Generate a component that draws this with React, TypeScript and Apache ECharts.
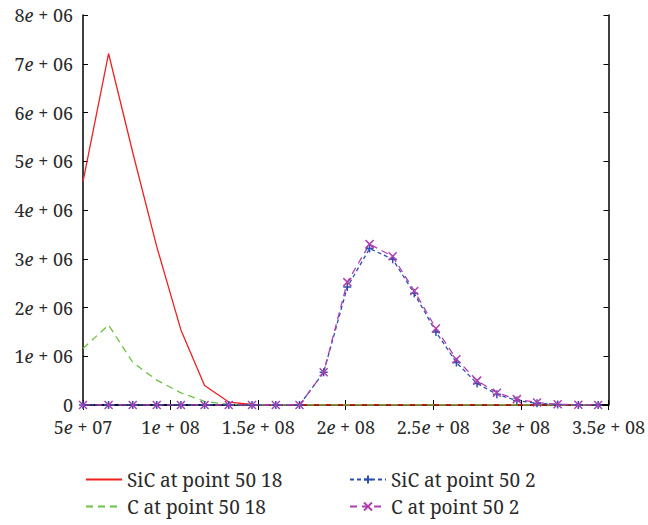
import React, { useEffect, useRef } from "react";
import * as echarts from "echarts";

const xValues = [
  5.0e7, 6.46e7, 7.84e7, 9.21e7, 1.059e8, 1.194e8, 1.332e8, 1.465e8, 1.601e8, 1.736e8,
  1.874e8, 2.009e8, 2.136e8, 2.268e8, 2.391e8, 2.515e8, 2.632e8, 2.75e8, 2.863e8, 2.977e8,
  3.092e8, 3.21e8, 3.328e8, 3.441e8,
];
const sic18 = [
  4.58e6, 7.21e6, 5.18e6, 3.25e6, 1.54e6, 0.4e6, 0.06e6, 0.01e6, 0, 0,
  0, 0, 0, 0, 0, 0, 0, 0, 0, 0, 0, 0, 0, 0,
];
const c18 = [
  1.16e6, 1.64e6, 0.875e6, 0.51e6, 0.25e6, 0.075e6, 0.01e6, 0, 0, 0,
  0, 0, 0, 0, 0, 0, 0, 0, 0, 0, 0, 0, 0, 0,
];
const sic2 = [
  0, 0, 0, 0, 0, 0, 0, 0, 0, 0,
  0.67e6, 2.42e6, 3.21e6, 2.99e6, 2.29e6, 1.5e6, 0.87e6, 0.44e6, 0.22e6, 0.09e6,
  0.035e6, 0.01e6, 0, 0,
];
const c2 = [
  0, 0, 0, 0, 0, 0, 0, 0, 0, 0,
  0.67e6, 2.52e6, 3.3e6, 3.05e6, 2.34e6, 1.57e6, 0.94e6, 0.5e6, 0.25e6, 0.12e6,
  0.05e6, 0.015e6, 0.005e6, 0,
];
const seriesNames = ["SiC at point 50 18", "C at point 50 18", "SiC at point 50 2", "C at point 50 2"];

const FONT = "Noto Serif";
const TEXT = "#2a2a2a";

const pairs = (ys: number[]) => xValues.map((x, i) => [x, ys[i]]);

export default function App() {
  const ref = useRef<HTMLDivElement>(null);
  useEffect(() => {
    if (!ref.current) return;
    const chart = echarts.init(ref.current, undefined, { renderer: "svg" });
    const rich = {
      n: { fontFamily: FONT, fontSize: 18, color: TEXT },
      i: { fontFamily: FONT, fontSize: 18, fontStyle: "italic", color: TEXT },
    };
    const sci = (m: number, exp: string) => `{n|${+m.toFixed(2)}}{i|e}{n| + ${exp}}`;
    const plus = "path://M0,5L10,5M5,0L5,10";
    const cross = "path://M0,0L10,10M10,0L0,10";
    const legendPos = [
      [85, 470],
      [85, 497],
      [349, 470],
      [349, 497],
    ];
    const legends = seriesNames.map((name, i) => ({
      left: legendPos[i][0],
      top: legendPos[i][1],
      padding: 0,
      itemWidth: 36,
      itemHeight: 10,
      selectedMode: false,
      data: [i < 2 ? { name, itemStyle: { opacity: 0 } } : { name }],
      textStyle: { fontFamily: FONT, fontSize: 19, color: TEXT },
    }));
    const tickAxis = {
      splitLine: { show: false },
      axisLine: { show: true, lineStyle: { color: "#000", width: 1.5 } },
      axisTick: { show: true, inside: true, length: 5, lineStyle: { color: "#000" } },
    };
    chart.setOption({
      animation: false,
      backgroundColor: "#fff",
      grid: { left: 83, right: 37, top: 15, bottom: 120, containLabel: false },
      xAxis: [
        {
          type: "value",
          min: 5e7,
          max: 3.5e8,
          interval: 5e7,
          ...tickAxis,
          axisLabel: {
            margin: 13,
            fontFamily: FONT,
            fontSize: 18,
            color: TEXT,
            rich,
            formatter: (v: number) => (v < 1e8 ? sci(v / 1e7, "07") : sci(v / 1e8, "08")),
          },
        },
        {
          type: "value",
          position: "top",
          min: 5e7,
          max: 3.5e8,
          interval: 5e7,
          ...tickAxis,
          axisLabel: { show: false },
        },
      ],
      yAxis: [
        {
          type: "value",
          min: 0,
          max: 8e6,
          interval: 1e6,
          ...tickAxis,
          axisLabel: {
            margin: 10,
            fontFamily: FONT,
            fontSize: 18,
            color: TEXT,
            rich,
            formatter: (v: number) => (v === 0 ? "{n|0}" : sci(v / 1e6, "06")),
          },
        },
        {
          type: "value",
          position: "right",
          min: 0,
          max: 8e6,
          interval: 1e6,
          ...tickAxis,
          axisLabel: { show: false },
        },
      ],
      legend: legends,
      series: [
        {
          name: seriesNames[0],
          type: "line",
          data: pairs(sic18),
          symbol: "none",
          itemStyle: { color: "#f02020" },
          lineStyle: { color: "#f02020", width: 1.3, type: "solid" },
        },
        {
          name: seriesNames[1],
          type: "line",
          data: pairs(c18),
          symbol: "none",
          itemStyle: { color: "#6cc040" },
          lineStyle: { color: "#6cc040", width: 1.3, type: [7, 5] },
        },
        {
          name: seriesNames[2],
          type: "line",
          data: pairs(sic2),
          symbol: plus,
          symbolSize: 8,
          showAllSymbol: true,
          itemStyle: { color: "#2f4fb0", borderColor: "#2f4fb0", borderWidth: 1.5 },
          lineStyle: { color: "#2f4fb0", width: 1.3, type: [4, 3] },
        },
        {
          name: seriesNames[3],
          type: "line",
          data: pairs(c2),
          symbol: cross,
          symbolSize: 8,
          showAllSymbol: true,
          itemStyle: { color: "#b040b0", borderColor: "#b040b0", borderWidth: 1.5 },
          lineStyle: { color: "#b040b0", width: 1.3, type: [7, 5] },
        },
      ],
    });
    return () => chart.dispose();
  }, []);
  return <div ref={ref} style={{ width: 648, height: 525, position: "absolute", left: 0, top: 0 }} />;
}
